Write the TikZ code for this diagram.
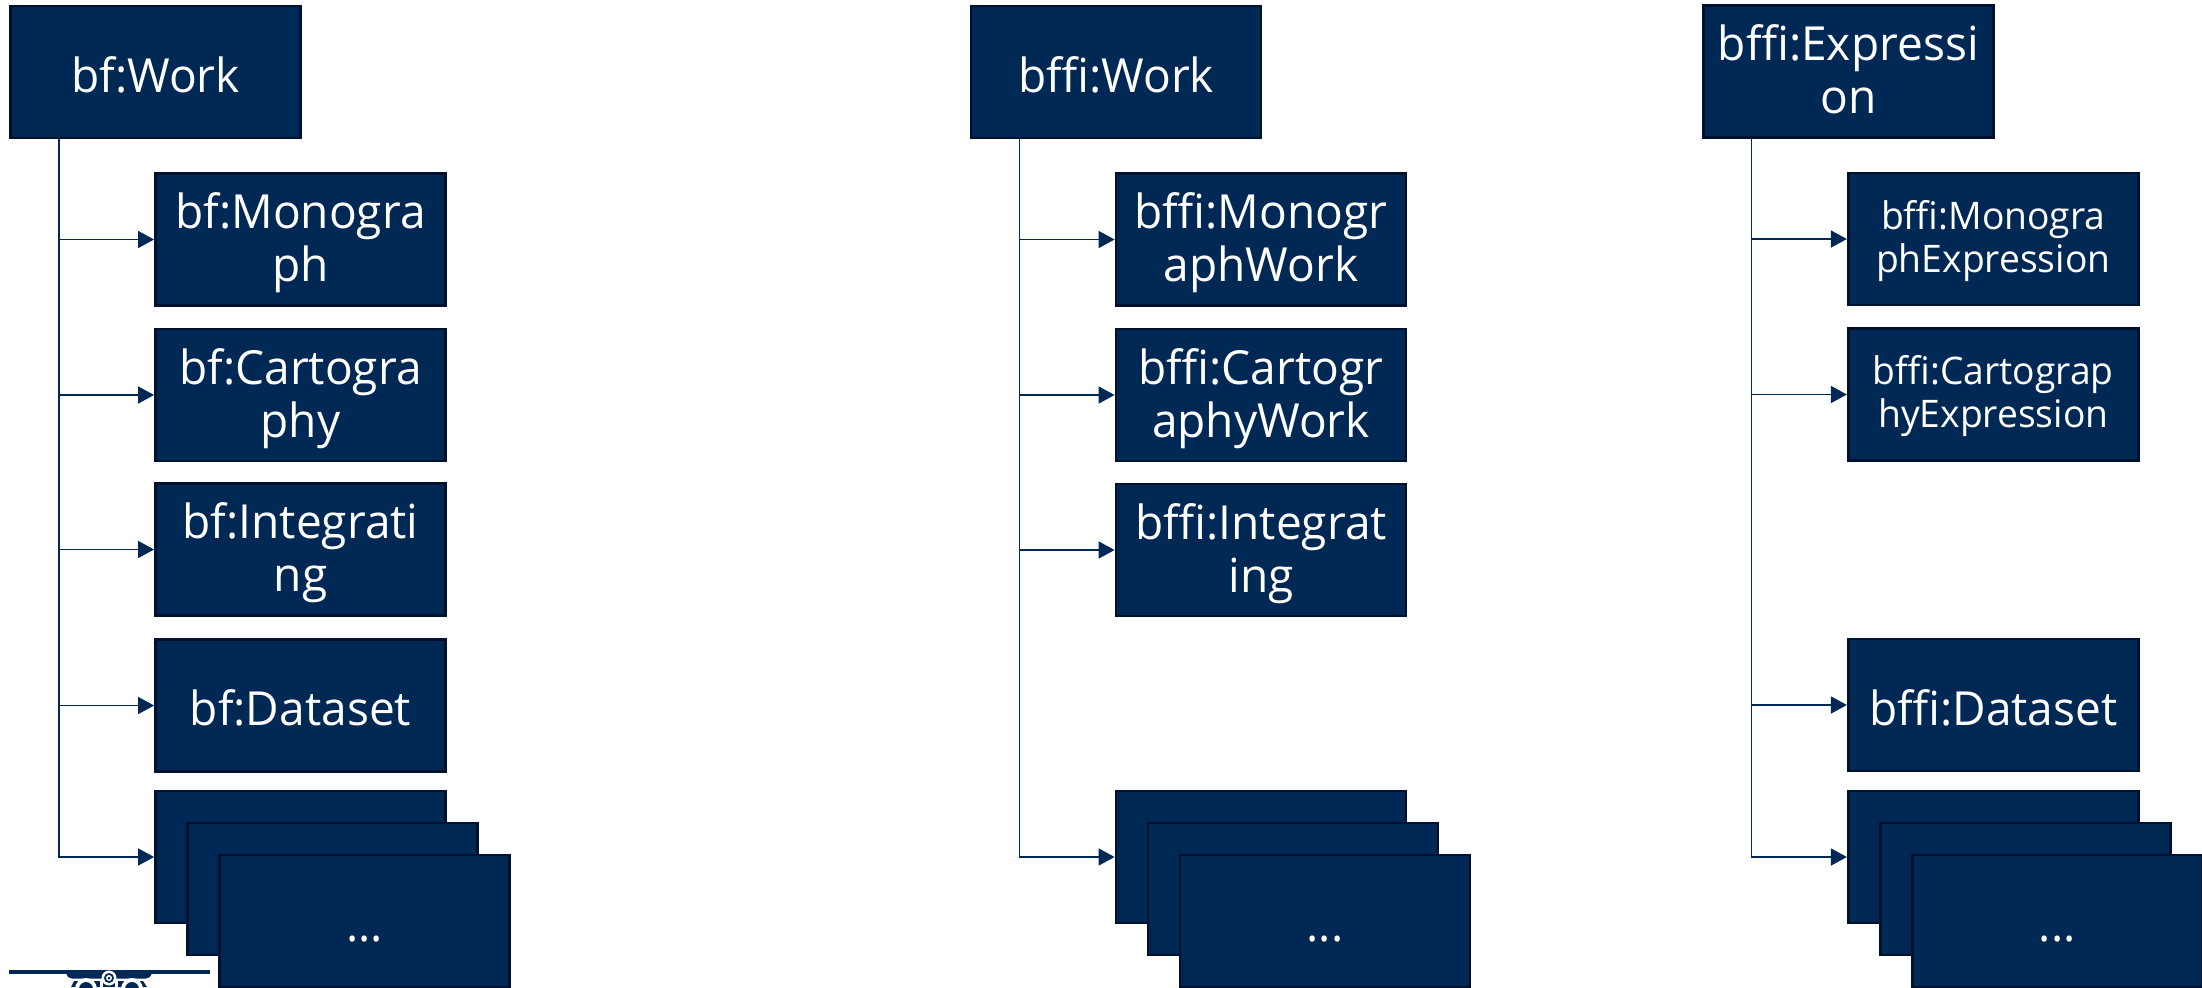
\documentclass[tikz,border=0pt]{standalone}
\usepackage{fontspec}
\setmainfont[FakeStretch=0.98]{Open Sans}
\usetikzlibrary{arrows.meta}
\definecolor{navy}{HTML}{002855}
\definecolor{navyedge}{HTML}{00112F}
\newcommand{\oneL}[1]{\rule{0pt}{32pt}#1\rule[-12pt]{0pt}{12pt}}
\newcommand{\twoL}[2]{\rule{0pt}{22pt}#1\\#2\rule[-6.5pt]{0pt}{6.5pt}}
\newcommand{\twoS}[2]{\rule{0pt}{18pt}#1\\#2\rule[-6.5pt]{0pt}{6.5pt}}
\tikzset{
  box/.style={draw=navyedge,fill=navy,line width=1.4pt,text=white,inner sep=0pt,
    minimum width=145pt,minimum height=66pt,align=center,
    font=\fontsize{23.5pt}{26.5pt}\selectfont},
  smallbox/.style={box,font=\fontsize{19pt}{21.5pt}\selectfont},
  conn/.style={draw=navy,line width=0.75pt,-{Triangle[length=8pt,width=8.5pt]}},
  trunk/.style={draw=navy,line width=0.75pt},
  logo/.style={fill=navy,draw=none},
  logow/.style={fill=white,draw=none}
}
\begin{document}
\begin{tikzpicture}[x=0.5pt,y=-0.5pt]
\useasboundingbox (0,0) rectangle (2202,987);
\clip (0,0) rectangle (2202,987);
% emblem, cut by the page edge
\fill[logo] (9,970) rectangle (209.5,974);
\fill[logo] (66.5,974) -- (151.5,974) -- (150,977) -- (146,978.5) -- (72,978.5) -- (68,977) -- cycle;
\fill[logo] (74,981) -- (100,981) -- (100,984) -- (118,984) -- (118,981) -- (143,981) -- (147,987) -- (71,987) -- cycle;
\fill[logow] (86,989) circle (11);
\fill[logo] (86,989) circle (7);
\fill[logow] (132,989) circle (11);
\fill[logo] (132,989) circle (7);
\fill[logow] (100,980) rectangle (118,988);
\fill[logo] (103,981) rectangle (115,987);
\fill[logow] (109,978) circle (7.5);
\fill[logo] (109,978) circle (5);
\fill[logow] (109,978) circle (3);
\fill[logo] (109,978) circle (1.5);
% column 1
\node[box] (p1) at (155.5,72) {\oneL{bf:Work}};
\node[box] (a1) at (300.5,239.5) {\twoL{bf:Monogra}{ph}};
\node[box] (a2) at (300.5,395) {\twoL{bf:Cartogra}{phy}};
\node[box] (a3) at (300.5,549.5) {\twoL{bf:Integrati}{ng}};
\node[box] (a4) at (300.5,705.5) {\oneL{bf:Dataset}};
\node[box] (a5) at (300.5,857) {};
\node[box] (a6) at (332.5,889) {};
\node[box] (a7) at (364.5,921) {\oneL{...}};
\coordinate (t1) at (59,139);
\draw[trunk] (t1) -- (t1 |- a4.west);
\draw[conn] (t1 |- a1.west) -- (a1.west);
\draw[conn] (t1 |- a2.west) -- (a2.west);
\draw[conn] (t1 |- a3.west) -- (a3.west);
\draw[conn] (t1 |- a4.west) -- (a4.west);
\draw[conn] (t1) |- (a5.west);
% column 2
\node[box] (p2) at (1116,72) {\oneL{bffi:Work}};
\node[box] (b1) at (1261,239.5) {\twoL{bffi:Monogr}{aphWork}};
\node[box] (b2) at (1261,395) {\twoL{bffi:Cartogr}{aphyWork}};
\node[box] (b3) at (1261,550) {\twoL{bffi:Integrat}{ing}};
\node[box] (b5) at (1261,857) {};
\node[box] (b6) at (1293,889) {};
\node[box] (b7) at (1325,921) {\oneL{...}};
\coordinate (t2) at (1019.3,139);
\draw[conn] (t2 |- b1.west) -- (b1.west);
\draw[conn] (t2 |- b2.west) -- (b2.west);
\draw[conn] (t2 |- b3.west) -- (b3.west);
\draw[conn] (t2) |- (b5.west);
% column 3
\node[box] (p3) at (1848.3,71.5) {\twoL{bffi:Expressi}{on}};
\node[smallbox] (c1) at (1993.3,239) {\twoS{bffi:Monogra}{phExpression}};
\node[smallbox] (c2) at (1993.3,394.5) {\twoS{bffi:Cartograp}{hyExpression}};
\node[box] (c4) at (1993.3,705) {\oneL{bffi:Dataset}};
\node[box] (c5) at (1993.3,857) {};
\node[box] (c6) at (2025.3,889) {};
\node[box] (c7) at (2057.3,921) {\oneL{...}};
\coordinate (t3) at (1751.7,138.5);
\draw[conn] (t3 |- c1.west) -- (c1.west);
\draw[conn] (t3 |- c2.west) -- (c2.west);
\draw[conn] (t3 |- c4.west) -- (c4.west);
\draw[conn] (t3) |- (c5.west);
\end{tikzpicture}
\end{document}
